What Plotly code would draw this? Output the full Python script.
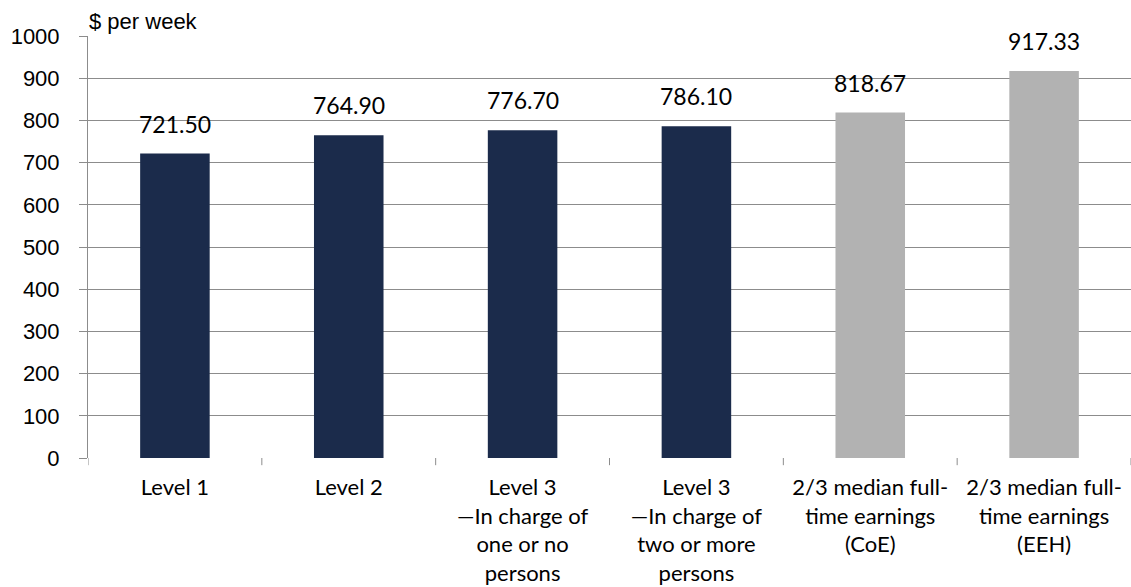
import plotly.graph_objects as go

# Weekly pay by classification level compared with low-pay thresholds
categories = [
    "Level 1",
    "Level 2",
    "Level 3<br>\u2014In charge of<br>one or no<br>persons",
    "Level 3<br>\u2014In charge of<br>two or more<br>persons",
    "2/3 median full-<br>time earnings<br>(CoE)",
    "2/3 median full-<br>time earnings<br>(EEH)",
]
weekly_pay = [721.50, 764.90, 776.70, 786.10, 818.67, 917.33]
bar_colors = ["#1B2B4B", "#1B2B4B", "#1B2B4B", "#1B2B4B", "#B2B2B2", "#B2B2B2"]
y_ticks = [0, 100, 200, 300, 400, 500, 600, 700, 800, 900, 1000]

x_idx = list(range(len(categories)))

fig = go.Figure()
fig.add_trace(go.Bar(
    x=x_idx,
    y=weekly_pay,
    marker=dict(color=bar_colors, line=dict(width=0)),
    width=0.4,
    hoverinfo="skip",
))

# value labels above each bar
for i, v in zip(x_idx, weekly_pay):
    fig.add_annotation(
        x=i, y=v, xref="x", yref="y",
        text=f"{v:.2f}", showarrow=False,
        yanchor="middle", yshift=30,
        font=dict(family="Lato, Open Sans, sans-serif", size=23, color="#000000"),
    )

fig.add_annotation(
    x=0, y=1, xref="paper", yref="paper",
    xanchor="left", yanchor="bottom", xshift=-1, yshift=0,
    text="$ per week", showarrow=False,
    font=dict(family="Liberation Sans, Arial, sans-serif", size=22, color="#000000"),
)

fig.update_layout(
    width=1131, height=587,
    margin=dict(l=88, r=0, t=36, b=129, pad=0),
    plot_bgcolor="#FFFFFF", paper_bgcolor="#FFFFFF",
    showlegend=False,
)

fig.update_xaxes(
    type="linear",
    range=[-0.5, 5.5],
    tickmode="array",
    tickvals=x_idx,
    ticktext=categories,
    ticks="",
    showgrid=False,
    zeroline=False,
    showline=False,
    tickfont=dict(family="Lato, Open Sans, sans-serif", size=22, color="#000000"),
    ticklabelstandoff=14,
)

fig.update_yaxes(
    range=[0, 1000],
    tickmode="array",
    tickvals=y_ticks,
    ticks="outside",
    ticklen=8,
    tickcolor="#8C8C8C",
    showgrid=True,
    gridcolor="#8C8C8C",
    gridwidth=1,
    zeroline=False,
    showline=True,
    linecolor="#8C8C8C",
    linewidth=1,
    tickfont=dict(family="Liberation Sans, Arial, sans-serif", size=22, color="#000000"),
    ticklabelstandoff=15,
)

# category boundary tick marks below the baseline
for b in [-0.5, 0.5, 1.5, 2.5, 3.5, 4.5, 5.5]:
    fig.add_shape(
        type="line", xref="x", yref="paper",
        x0=b, x1=b, y0=0, y1=-0.017,
        line=dict(color="#8C8C8C", width=1),
    )

fig.write_html("out.html")
